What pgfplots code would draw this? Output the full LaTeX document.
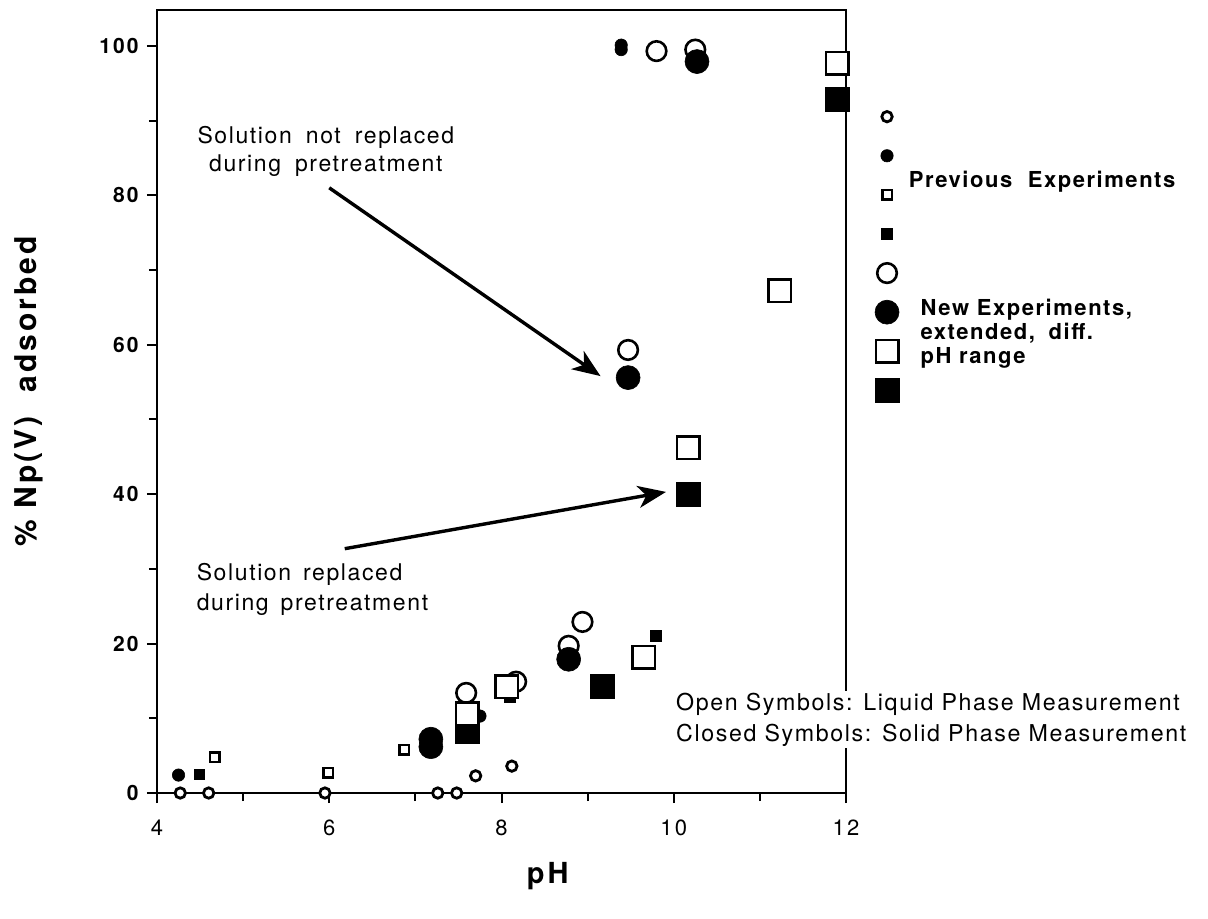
\documentclass[border=0pt]{standalone}
\usepackage{pgfplots}
\pgfplotsset{compat=1.18}
\usepackage{fontspec}
\setmainfont{TeX Gyre Heros}
\newfontfamily\lsfont[LetterSpace=7]{TeX Gyre Heros}
\newfontfamily\lsfontL[LetterSpace=10]{TeX Gyre Heros}
\usetikzlibrary{arrows.meta}
\pgfplotsset{
 sopen/.style={black, only marks, mark=*, mark size=2.6pt, mark options={draw=black, fill=white, line width=1.4pt}},
 sfill/.style={black, only marks, mark=*, mark size=3.1pt, mark options={draw=black, fill=black, line width=0.3pt}},
 sqopen/.style={black, only marks, mark=square*, mark size=2.4pt, mark options={draw=black, fill=white, line width=1.3pt}},
 sqfill/.style={black, only marks, mark=square*, mark size=2.7pt, mark options={draw=black, fill=black, line width=0.3pt}},
 bopen/.style={black, only marks, mark=*, mark size=4.9pt, mark options={draw=black, fill=white, line width=1.3pt}},
 bfill/.style={black, only marks, mark=*, mark size=6pt, mark options={draw=black, fill=black, line width=0.3pt}},
 bsqopen/.style={black, only marks, mark=square*, mark size=5.6pt, mark options={draw=black, fill=white, line width=1.3pt}},
 bsqfill/.style={black, only marks, mark=square*, mark size=6pt, mark options={draw=black, fill=black, line width=0.3pt}},
}
\begin{document}
\begin{tikzpicture}
\begin{axis}[
  scale only axis, width=344.5pt, height=391.5pt,
  xmin=4, xmax=12, ymin=0, ymax=104.8,
  clip=false,
  axis line style={line width=1.2pt},
  tick style={line width=1pt, black},
  tick align=outside,
  major tick length=5pt, minor tick length=4pt,
  xtick={4,6,8,10,12}, minor xtick={5,7,9,11},
  ytick={0,20,40,60,80,100}, minor ytick={10,30,50,70,90},
  xtick pos=bottom, ytick pos=left,
  /pgf/number format/assume math mode=true,
  xticklabels={4,6,8,10,12},
  yticklabels={0,20,40,60,80,100},
  yticklabel style={font=\fontsize{10.5}{12}\lsfontL\bfseries, inner sep=0pt, xshift=-4pt},
  xticklabel style={font=\fontsize{11}{12}\lsfontL, inner sep=0pt, yshift=-8pt},
  xlabel={pH},
  ylabel={\% Np(V)\hspace{6pt} adsorbed},
  xlabel style={font=\fontsize{14.5}{16}\lsfontL\bfseries, at={(rel axis cs:0.567,0)}, yshift=-41.5pt, anchor=center},
  ylabel style={font=\fontsize{15}{16}\lsfontL\bfseries, at={(rel axis cs:0,0.513)}, yshift=64pt, anchor=center},
  legend image code/.code={\draw[#1] plot coordinates {(0pt,0pt)};},
  legend style={draw=none, fill=none, inner sep=0pt, outer sep=0pt, row sep=0pt, column sep=0pt,
    nodes={inner sep=0pt, outer sep=0pt, text height=9.775pt, text depth=9.775pt},
    at={(rel axis cs:1.061,0.689)}, anchor=center},
]
% legend images
\addlegendimage{sopen}\addlegendentry{\hspace{0pt}}
\addlegendimage{sfill}\addlegendentry{\hspace{0pt}}
\addlegendimage{sqopen}\addlegendentry{\hspace{0pt}}
\addlegendimage{sqfill}\addlegendentry{\hspace{0pt}}
\addlegendimage{bopen}\addlegendentry{\hspace{0pt}}
\addlegendimage{bfill}\addlegendentry{\hspace{0pt}}
\addlegendimage{bsqopen}\addlegendentry{\hspace{0pt}}
\addlegendimage{bsqfill}\addlegendentry{\hspace{0pt}}

% previous experiments (small symbols)
\addplot[sopen, forget plot] coordinates {(4.27,0) (4.6,0) (5.95,0) (7.26,0) (7.48,0) (7.7,2.3) (8.12,3.6)};
\addplot[sfill, forget plot] coordinates {(4.25,2.4) (7.75,10.3) (9.39,99.5) (9.39,100.1)};
\addplot[sqopen, forget plot] coordinates {(4.67,4.8) (5.99,2.7) (6.87,5.8)};
\addplot[sqfill, forget plot] coordinates {(4.49,2.5) (8.1,12.9) (9.79,21.0)};
% new experiments (large symbols)
\addplot[bopen, forget plot] coordinates {(9.8,99.3) (10.25,99.5) (9.47,59.3) (8.94,22.9) (8.78,19.7) (8.17,14.9) (7.59,13.4)};
\addplot[bfill, forget plot] coordinates {(10.27,97.9) (9.47,55.6) (8.78,17.9) (7.18,6.2) (7.18,7.2)};
\addplot[bsqfill, forget plot] coordinates {(11.9,92.8) (10.17,40.0) (9.17,14.3) (7.6,8.2)};
\addplot[bsqopen, forget plot] coordinates {(11.9,97.7) (11.23,67.2) (10.17,46.2) (9.65,18.2) (8.06,14.2) (7.6,10.6)};

% annotations
\node[align=center, font=\fontsize{11.5}{14}\lsfont] at (axis cs:5.96,85.9) {Solution\hspace{3pt} not\hspace{3pt} replaced\\during\hspace{3pt} pretreatment};
\draw[line width=1.7pt, -{Stealth[length=14pt,width=11pt,inset=4pt]}] (axis cs:6.0,81.0) -- (axis cs:9.15,55.8);
\node[align=left, anchor=west, font=\fontsize{11.5}{15}\lsfont] at (axis cs:4.38,27.2) {Solution\hspace{2pt} replaced\\during\hspace{2pt} pretreatment};
\draw[line width=1.7pt, -{Stealth[length=14pt,width=11pt,inset=4pt]}] (axis cs:6.18,32.7) -- (axis cs:9.91,40.3);
\node[align=left, anchor=west, fill=white, inner sep=1pt, font=\fontsize{11.6}{15.5}\lsfont] at (axis cs:10.0,9.8) {Open Symbols: Liquid Phase Measurement\\Closed Symbols: Solid Phase Measurement};
% legend texts
\node[anchor=west, font=\fontsize{11}{12}\lsfont\bfseries] at (rel axis cs:1.081,0.781) {Previous\hspace{4pt} Experiments};
\node[anchor=west, align=left, font=\fontsize{11}{12}\lsfont\bfseries] at (rel axis cs:1.098,0.587) {New Experiments,\\extended,\hspace{3pt} diff.\\pH range};
\end{axis}
\path (current axis.south west) ++(-78.5pt,-62.5pt) rectangle ++(604pt,459pt);
\end{tikzpicture}
\end{document}
